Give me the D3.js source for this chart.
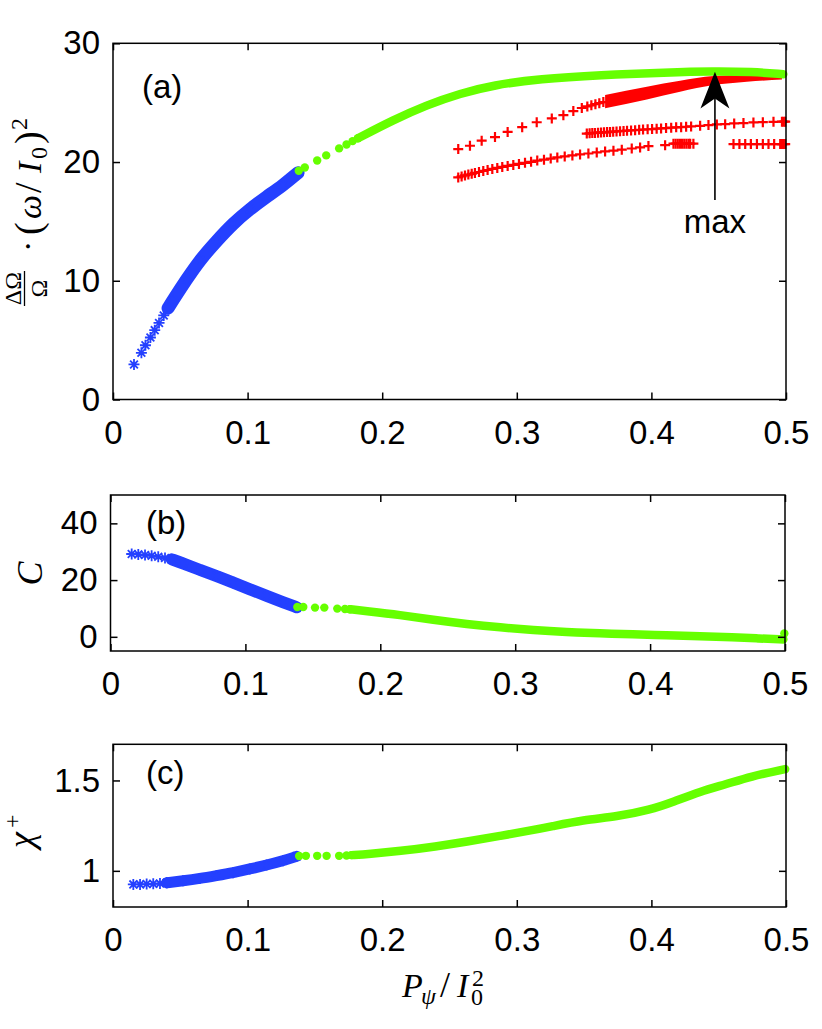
<!DOCTYPE html>
<html>
<head>
<meta charset="utf-8">
<script src="https://d3js.org/d3.v7.min.js"></script>
<style>
body { margin: 0; background: #fff; }
.ax text { font-family: 'Liberation Sans', Arial, sans-serif; font-size: 33px; fill: #000; }
.ax line { stroke: #000; stroke-width: 1.5; }
.math { font-family: 'Liberation Serif', 'DejaVu Serif', serif; fill: #000; }
.tag { font-family: 'Liberation Sans', Arial, sans-serif; font-size: 33px; fill: #000; }
</style>
</head>
<body>
<svg id="chart" width="822" height="1029"></svg>
<script>
// ---- shared axis ticks ----
const xTicks = [0, 0.1, 0.2, 0.3, 0.4, 0.5];
const xTickLabels = ["0", "0.1", "0.2", "0.3", "0.4", "0.5"];
const yTicksA = [0, 10, 20, 30];
const yTicksB = [0, 20, 40];
const yTicksC = [1, 1.5];
const yTickLabelsC = ["1", "1.5"];

// ---- panel (a): dOmega/Omega * (w/I0)^2 ----
const blueStarsA = [[0.0156,2.95],[0.0211,3.93],[0.0241,4.57],[0.0278,5.22],[0.031,5.84],[0.0342,6.45],[0.0377,7.08],[0.0409,7.69]];
const blueBandA = [[0.0409,7.69],[0.0446,8.37],[0.0546,10.11],[0.0645,11.74],[0.0769,13.34],[0.0892,14.83],[0.1016,16.03],[0.114,17.07],[0.1264,18.05],[0.1375,19.1]];
const greenDotsA = [[0.138,19.26],[0.1425,19.54],[0.1517,20.13],[0.1584,20.56],[0.168,21.15],[0.1735,21.48],[0.178,21.76],[0.182,22.0]];
const greenBandA = [[0.182,22.0],[0.208,23.53],[0.233,24.8],[0.258,25.78],[0.2825,26.48],[0.317,27.0],[0.362,27.32],[0.4115,27.55],[0.446,27.65],[0.475,27.6],[0.498,27.4]];
const redUpper = [[0.2565,21.09],[0.2652,21.37],[0.2739,21.8],[0.2838,22.1],[0.2932,22.54],[0.3040,22.94],[0.3148,23.35],[0.3260,23.67],[0.3346,23.95],[0.3420,24.29],[0.3483,24.55],[0.3524,24.68],[0.3554,24.78],[0.3584,24.87],[0.3613,24.96],[0.3643,25.05]];
const redBandX = [0.3656, 0.3966, 0.4213, 0.4461, 0.4709, 0.4970];
const redBandHi = [25.64, 26.34, 26.84, 27.24, 27.32, 27.41];
const redBandLo = [24.52, 25.27, 25.92, 26.48, 26.76, 26.96];
const redMiddle = [[0.3520,22.40],[0.3541,22.42],[0.3561,22.44],[0.3581,22.45],[0.3604,22.47],[0.3626,22.49],[0.3648,22.50],[0.3671,22.52],[0.3693,22.54],[0.3716,22.56],[0.3741,22.58],[0.3767,22.60],[0.3793,22.62],[0.3819,22.64],[0.3849,22.66],[0.3879,22.68],[0.3909,22.71],[0.3938,22.73],[0.3972,22.76],[0.4005,22.78],[0.4039,22.81],[0.4072,22.83],[0.4109,22.86],[0.4147,22.89],[0.4184,22.92],[0.4221,22.94],[0.4258,22.97],[0.4295,23.00],
  [0.4362,23.05],[0.4424,23.11],[0.4486,23.17],[0.4548,23.19],[0.4615,23.25],[0.4684,23.28],[0.4758,23.34],[0.4828,23.36],[0.4907,23.39],[0.4970,23.40],[0.4982,23.40],[0.4994,23.40]];
const redLower = [[0.2565,18.70],[0.2590,18.79],[0.2615,18.87],[0.2640,18.94],[0.2665,19.01],[0.2689,19.08],[0.2719,19.16],[0.2751,19.25],[0.2783,19.33],[0.2818,19.42],[0.2855,19.50],[0.2892,19.59],[0.2932,19.67],[0.2974,19.76],[0.3016,19.84],[0.3061,19.93],[0.3106,20.02],[0.3152,20.12],[0.3202,20.20],[0.3252,20.29],[0.3301,20.39],[0.3356,20.47],[0.3413,20.56],[0.3470,20.64],[0.3532,20.72],[0.3594,20.81],[0.3656,20.89],[0.3718,20.96],[0.3780,21.04],[0.3854,21.14],[0.3916,21.23],
  [0.3978,21.34],[0.4102,21.42],[0.4164,21.55],[0.4180,21.55],[0.4196,21.55],[0.4212,21.55],[0.4228,21.55],[0.4244,21.55],[0.4260,21.55],[0.4276,21.55],[0.4288,21.55],[0.4312,21.55],
  [0.4610,21.51],[0.4654,21.51],[0.4697,21.51],[0.4739,21.51],[0.4784,21.51],[0.4828,21.51],[0.4870,21.51],[0.4912,21.51],[0.4957,21.51],[0.4970,21.51],[0.4982,21.51],[0.4994,21.51]];
const maxArrow = { x: 0.4472, tip: 27.6, tail: 16.8, label: 14.0 };

// ---- panel (b): C ----
const blueStarsB = [[0.0157,29.2],[0.0206,29.06],[0.0256,28.84],[0.0305,28.56],[0.0354,28.2],[0.0404,27.79],[0.0454,27.3]];
const blueBandB = [[0.0454,27.3],[0.054,25.9],[0.0663,23.55],[0.0787,21.44],[0.091,19.08],[0.1034,16.75],[0.1158,14.39],[0.1281,12.17],[0.138,10.4]];
const greenDotsB = [[0.1385,10.5],[0.1429,10.5],[0.1516,10.3],[0.1585,10.3],[0.1681,9.95],[0.1738,9.83],[0.1775,9.72],[0.4995,1.2]];
const greenBandB = [[0.1775,9.72],[0.19,9.06],[0.2146,7.7],[0.2393,6.0],[0.2641,4.5],[0.289,3.3],[0.3135,2.38],[0.338,1.7],[0.3628,1.2],[0.387,0.85],[0.4123,0.6],[0.437,0.2],[0.4617,-0.2],[0.48,-0.55],[0.4988,-0.92]];

// ---- panel (c): chi+ ----
const blueStarsC = [[0.0151,0.925],[0.0201,0.925],[0.025,0.927],[0.0299,0.928],[0.0349,0.930],[0.0399,0.934]];
const blueBandC = [[0.0399,0.934],[0.052,0.945],[0.0645,0.958],[0.0769,0.974],[0.0892,0.99],[0.1016,1.01],[0.1141,1.032],[0.1264,1.056],[0.1364,1.08]];
const greenDotsC = [[0.1383,1.082],[0.1433,1.083],[0.1517,1.083],[0.1587,1.083],[0.168,1.083],[0.1735,1.085],[0.1772,1.087]];
const greenBandC = [[0.1772,1.087],[0.19,1.093],[0.2132,1.109],[0.24,1.135],[0.2628,1.161],[0.2875,1.193],[0.3123,1.226],[0.3247,1.244],[0.3494,1.282],[0.3743,1.30],[0.399,1.337],[0.4163,1.382],[0.4362,1.439],[0.456,1.48],[0.4734,1.522],[0.4994,1.563]];

const BLUE = '#2440ff', GREEN = '#66ff00', RED = '#ff0000';
const starPath = 'M-5.5,0H5.5M0,-5.5V5.5M-3.9,-3.9L3.9,3.9M-3.9,3.9L3.9,-3.9';
const crossPath = 'M-5,0H5M0,-5V5';

const svg = d3.select('#chart');
svg.append('rect').attr('width', 822).attr('height', 1029).attr('fill', '#fff');

function makePanel(xr, yr, ydom) {
  const x = d3.scaleLinear().domain([0, 0.5]).range(xr);
  const y = d3.scaleLinear().domain(ydom).range(yr);
  return { x, y, g: svg.append('g') };
}

function drawFrame(p, yTicks, yLabels) {
  const { x, y, g } = p;
  const [x0, x1] = x.range(), [y0, y1] = y.range();
  const fix = s => { s.select('.domain').remove(); s.attr('font-size', null).attr('font-family', null).attr('class', 'ax'); };
  g.append('g').attr('transform', `translate(0,${y0})`)
    .call(d3.axisBottom(x).tickValues(xTicks).tickFormat((d, i) => xTickLabels[i]).tickSize(-7).tickPadding(21)).call(fix);
  g.append('g').attr('transform', `translate(0,${y1})`)
    .call(d3.axisTop(x).tickValues(xTicks).tickFormat('').tickSize(-7)).call(fix);
  g.append('g').attr('transform', `translate(${x0},0)`)
    .call(d3.axisLeft(y).tickValues(yTicks).tickFormat((d, i) => yLabels ? yLabels[i] : d).tickSize(-7).tickPadding(13)).call(fix);
  g.append('g').attr('transform', `translate(${x1},0)`)
    .call(d3.axisRight(y).tickValues(yTicks).tickFormat('').tickSize(-7)).call(fix);
  g.append('rect').attr('x', x0).attr('y', y1).attr('width', x1 - x0).attr('height', y0 - y1)
    .attr('fill', 'none').attr('stroke', '#000').attr('stroke-width', 1.5);
}

function band(p, pts, color, w) {
  const line = d3.line().x(d => p.x(d[0])).y(d => p.y(d[1])).curve(d3.curveBasis);
  p.g.append('path').datum(pts).attr('d', line).attr('fill', 'none')
    .attr('stroke', color).attr('stroke-width', w).attr('stroke-linecap', 'round').attr('stroke-linejoin', 'round');
}
function markers(p, pts, path, color, sw) {
  p.g.append('g').selectAll('path').data(pts).join('path')
    .attr('transform', d => `translate(${p.x(d[0])},${p.y(d[1])})`)
    .attr('d', path).attr('fill', 'none').attr('stroke', color).attr('stroke-width', sw);
}
function dots(p, pts) {
  p.g.append('g').selectAll('circle').data(pts).join('circle')
    .attr('cx', d => p.x(d[0])).attr('cy', d => p.y(d[1])).attr('r', 4.2).attr('fill', GREEN);
}

// ---------- panel (a) ----------
const pa = makePanel([113, 786], [399.5, 43.3], [0, 30]);
markers(pa, blueStarsA, starPath, BLUE, 1.8);
band(pa, blueBandA, BLUE, 13);
markers(pa, blueBandA, starPath, BLUE, 1.8);
markers(pa, redUpper, crossPath, RED, 2.2);
markers(pa, redMiddle, crossPath, RED, 2.2);
markers(pa, redLower, crossPath, RED, 2.2);
pa.g.append('path').datum(redBandX)
  .attr('d', d3.area().x(d => pa.x(d)).y0((d, i) => pa.y(redBandLo[i])).y1((d, i) => pa.y(redBandHi[i])).curve(d3.curveMonotoneX))
  .attr('fill', RED);
dots(pa, greenDotsA);
band(pa, greenBandA, GREEN, 8.5);
// arrow to the maximum
const ax = pa.x(maxArrow.x), at = pa.y(maxArrow.tip);
pa.g.append('line').attr('x1', ax).attr('x2', ax).attr('y1', pa.y(maxArrow.tail)).attr('y2', at + 20)
  .attr('stroke', '#000').attr('stroke-width', 1.6);
pa.g.append('path').attr('transform', `translate(${ax},${at})`)
  .attr('d', 'M0,0L14.5,36.6L0,26.6L-14.5,36.6Z').attr('fill', '#000');
pa.g.append('text').attr('class', 'tag').attr('x', ax).attr('y', pa.y(maxArrow.label))
  .attr('text-anchor', 'middle').attr('font-size', 34).text('max');
drawFrame(pa, yTicksA);
pa.g.append('text').attr('class', 'tag').attr('x', 142).attr('y', 98).text('(a)');

// ---------- panel (b) ----------
const pb = makePanel([110.5, 785], [651, 495], [-5, 50]);
markers(pb, blueStarsB, starPath, BLUE, 1.8);
band(pb, blueBandB, BLUE, 12);
markers(pb, blueBandB, starPath, BLUE, 1.8);
dots(pb, greenDotsB);
band(pb, greenBandB, GREEN, 8.5);
drawFrame(pb, yTicksB);
pb.g.append('text').attr('class', 'tag').attr('x', 146).attr('y', 534).text('(b)');

// ---------- panel (c) ----------
const pc = makePanel([113, 786], [907, 744.3], [0.8, 1.7]);
markers(pc, blueStarsC, starPath, BLUE, 1.8);
band(pc, blueBandC, BLUE, 11);
markers(pc, blueBandC, starPath, BLUE, 1.8);
dots(pc, greenDotsC);
band(pc, greenBandC, GREEN, 8.5);
drawFrame(pc, yTicksC, yTickLabelsC);
pc.g.append('text').attr('class', 'tag').attr('x', 146).attr('y', 784).text('(c)');

// ---------- math labels ----------
function glyph(g, x, y, size, txt, italic, anchor) {
  g.append('text').attr('class', 'math').attr('x', x).attr('y', y).attr('font-size', size)
    .attr('font-style', italic ? 'italic' : 'normal').attr('text-anchor', anchor || 'start').text(txt);
}
const la = svg.append('g').attr('transform', 'translate(41,307) rotate(-90)');
glyph(la, 18.5, -20, 24, 'ΔΩ', false, 'middle');
la.append('line').attr('x1', 1).attr('x2', 36).attr('y1', -16.5).attr('y2', -16.5).attr('stroke', '#000').attr('stroke-width', 1.3);
glyph(la, 18.5, 6, 24, 'Ω', false, 'middle');
glyph(la, 55, -2, 34, '·', false);
glyph(la, 72, 0, 38, '(', false);
glyph(la, 88, 0, 34, 'ω', true);
glyph(la, 114, 0, 38, '/', false);
glyph(la, 134, 0, 34, 'I', true);
glyph(la, 148, 6, 24, '0', false);
glyph(la, 163, 0, 38, ')', false);
glyph(la, 177, -14, 24, '2', false);

const lb = svg.append('g').attr('transform', 'translate(42,573.5) rotate(-90)');
glyph(lb, 0, 0, 36, 'C', true, 'middle');

const lc = svg.append('g').attr('transform', 'translate(33,848) rotate(-90)');
glyph(lc, 0, 0, 36, 'χ', true);
glyph(lc, 20, -13, 24, '+', false);

const lx = svg.append('g');
glyph(lx, 402, 997, 34, 'P', true);
glyph(lx, 421, 1004, 24, 'ψ', true);
glyph(lx, 440, 997, 36, '/', false);
glyph(lx, 457, 997, 34, 'I', true);
glyph(lx, 471, 1005, 24, '0', false);
glyph(lx, 472, 986, 24, '2', false);
</script>
</body>
</html>
